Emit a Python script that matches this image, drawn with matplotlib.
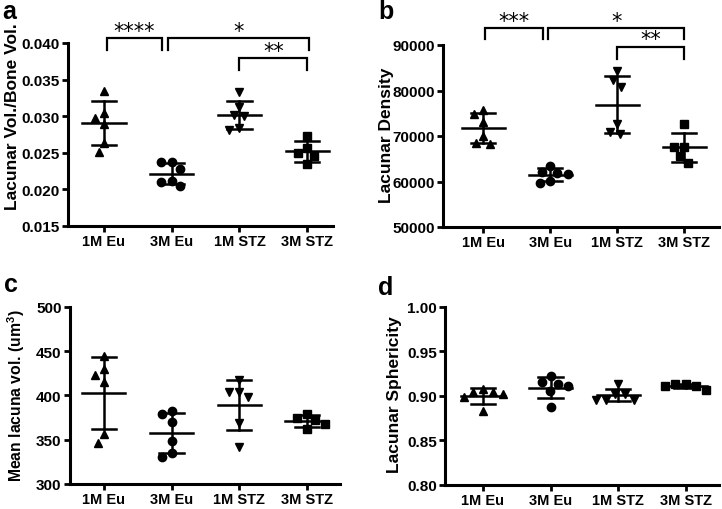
import matplotlib
matplotlib.use("Agg")
import matplotlib.pyplot as plt
import numpy as np

plt.rcParams["font.family"] = ["Liberation Sans", "DejaVu Sans"]
plt.rcParams["font.weight"] = "bold"
plt.rcParams["mathtext.fontset"] = "custom"
plt.rcParams["mathtext.rm"] = "Liberation Sans:bold"
plt.rcParams["mathtext.bf"] = "Liberation Sans:bold"

GROUPS = ["1M Eu", "3M Eu", "1M STZ", "3M STZ"]
MARKERS = ["^", "o", "v", "s"]

# a: lacunar volume / bone volume
VOLFRAC_1M_EU = [0.0335, 0.0305, 0.0298, 0.0289, 0.0264, 0.0251]
VOLFRAC_3M_EU = [0.0237, 0.0237, 0.0228, 0.0212, 0.0210, 0.0204]
VOLFRAC_1M_STZ = [0.0333, 0.0313, 0.0301, 0.0300, 0.0284, 0.0281]
VOLFRAC_3M_STZ = [0.0273, 0.0257, 0.0250, 0.0246, 0.0235]

# b: lacunar density
DENS_1M_EU = [75700, 74800, 73100, 70000, 68200, 68400]
DENS_3M_EU = [62100, 61700, 63500, 61800, 59600, 60100]
DENS_1M_STZ = [84300, 82200, 80800, 72600, 70400, 70900]
DENS_3M_STZ = [72600, 67600, 67600, 65500, 64100]

# c: mean lacuna volume
MLV_1M_EU = [444.7, 429.7, 423.3, 414.7, 356.4, 346.6]
MLV_3M_EU = [382.7, 378.9, 369.5, 348.9, 335.0, 330.8]
MLV_1M_STZ = [417.3, 404.5, 404.5, 398.5, 368.4, 342.0]
MLV_3M_STZ = [379.0, 374.4, 372.2, 367.7, 362.0]

# d: lacunar sphericity
SPH_1M_EU = [0.9040, 0.9025, 0.8985, 0.9045, 0.9080, 0.8830]
SPH_3M_EU = [0.9159, 0.9220, 0.9115, 0.9058, 0.9133, 0.8872]
SPH_1M_STZ = [0.9133, 0.9021, 0.9021, 0.8957, 0.8957, 0.8957]
SPH_3M_STZ = [0.9135, 0.9133, 0.9115, 0.9112, 0.9070]

SIG_A = ["****", "*", "**"]
SIG_B = ["***", "*", "**"]


def swarm(vals, ppx, ppy, d=10.5):
    """simple beeswarm offsets (in x data units)"""
    vals = np.asarray(vals, float)
    xs = np.zeros(len(vals))
    placed = []
    for i in np.argsort(vals)[::-1]:
        y = vals[i] * ppy
        cands = [0.0]
        for xp, yp in placed:
            dy = abs(y - yp)
            if dy < d:
                dx = np.sqrt(d * d - dy * dy)
                cands += [xp - dx, xp + dx]
        cands.sort(key=abs)
        for c in cands:
            if all((c - xp) ** 2 + (y - yp) ** 2 >= d * d - 1e-6 for xp, yp in placed):
                xs[i] = c
                break
        placed.append((xs[i], y))
    return xs / ppx


fig = plt.figure(figsize=(7.22, 5.1), dpi=100)
W, H = 722, 510


def rect(l, r, t, b):
    return [l / W, 1 - b / H, (r - l) / W, (b - t) / H]


panels = [
    dict(data=[VOLFRAC_1M_EU, VOLFRAC_3M_EU, VOLFRAC_1M_STZ, VOLFRAC_3M_STZ],
         rect=rect(68, 333, 44, 227), xlim=(-0.53, 3.38), ylim=(0.015, 0.040),
         yticks=np.arange(0.015, 0.0401, 0.005), fmt="{:.3f}",
         ylabel="Lacunar Vol./Bone Vol.", lab_xy=(13, 117), lab_fs=12.5,
         letter="a", let_xy=(9, 12),
         brackets=[(0.04, 0.85, 0.04064, 0.03908, SIG_A[0]),
                   (0.95, 3.03, 0.04064, 0.03908, SIG_A[1]),
                   (2.0, 3.0, 0.03791, 0.03635, SIG_A[2])]),
    dict(data=[DENS_1M_EU, DENS_3M_EU, DENS_1M_STZ, DENS_3M_STZ],
         rect=rect(443, 719, 46, 228), xlim=(-0.6, 3.52), ylim=(50000, 90000),
         yticks=np.arange(50000, 90001, 10000), fmt="{:.0f}",
         ylabel="Lacunar Density", lab_xy=(386, 135), lab_fs=12.5,
         letter="b", let_xy=(386, 12),
         brackets=[(0.03, 0.9, 93736, 91319, SIG_B[0]),
                   (0.97, 3.0, 93736, 91319, SIG_B[1]),
                   (2.0, 3.0, 89626, 86923, SIG_B[2])]),
    dict(data=[MLV_1M_EU, MLV_3M_EU, MLV_1M_STZ, MLV_3M_STZ],
         rect=rect(70, 340, 308, 485), xlim=(-0.5, 3.49), ylim=(300, 500),
         yticks=np.arange(300, 501, 50), fmt="{:.0f}",
         ylabel=r"Mean lacuna vol. (um$^{\mathbf{3}}$)", lab_xy=(16, 396), lab_fs=11.3,
         letter="c", let_xy=(11, 285), brackets=[]),
    dict(data=[SPH_1M_EU, SPH_3M_EU, SPH_1M_STZ, SPH_3M_STZ],
         rect=rect(445, 719, 308, 486), xlim=(-0.56, 3.49), ylim=(0.80, 1.00),
         yticks=np.arange(0.80, 1.001, 0.05), fmt="{:.2f}",
         ylabel="Lacunar Sphericity", lab_xy=(395, 395), lab_fs=12.5,
         letter="d", let_xy=(386, 288), brackets=[]),
]

for p in panels:
    ax = fig.add_axes(p["rect"])
    ax.set_xlim(*p["xlim"])
    ax.set_ylim(*p["ylim"])
    ppx = ax.bbox.width / (p["xlim"][1] - p["xlim"][0])
    ppy = ax.bbox.height / (p["ylim"][1] - p["ylim"][0])

    for i, vals in enumerate(p["data"]):
        vals = np.asarray(vals, float)
        off = swarm(vals, ppx, ppy)
        ax.plot(i + off, vals, ls="none", marker=MARKERS[i], ms=6,
                color="black", clip_on=False, zorder=3)
        m, sd = vals.mean(), vals.std(ddof=1)
        ax.plot([i - 0.32, i + 0.32], [m, m], color="black", lw=1.8, zorder=4)
        ax.plot([i, i], [m - sd, m + sd], color="black", lw=1.8, zorder=4)
        for y in (m - sd, m + sd):
            ax.plot([i - 0.18, i + 0.18], [y, y], color="black", lw=1.8, zorder=4)

    for x1, x2, yt, yl, s in p["brackets"]:
        ax.plot([x1, x1, x2, x2], [yl, yt, yt, yl], color="black", lw=1.6,
                clip_on=False, solid_joinstyle="miter")
        ax.annotate(s, ((x1 + x2) / 2, yt), xytext=(0, -2), textcoords="offset points",
                    ha="center", va="bottom", fontsize=15, fontweight="normal",
                    family="DejaVu Sans", annotation_clip=False)

    ax.set_xticks(range(len(GROUPS)))
    ax.set_xticklabels(GROUPS, fontsize=10.5, fontweight="bold")
    ax.set_yticks(p["yticks"])
    ax.set_yticklabels([p["fmt"].format(v) for v in p["yticks"]], fontsize=11,
                       fontweight="bold")
    for s in ("top", "right"):
        ax.spines[s].set_visible(False)
    for s in ("left", "bottom"):
        ax.spines[s].set_linewidth(2.2)
    ax.tick_params(width=2, length=4, pad=2, color="black")

    fig.text(p["lab_xy"][0] / W, 1 - p["lab_xy"][1] / H, p["ylabel"], rotation=90,
             ha="center", va="center", fontsize=p["lab_fs"], fontweight="bold")
    fig.text(p["let_xy"][0] / W, 1 - p["let_xy"][1] / H, p["letter"],
             ha="center", va="center", fontsize=18, fontweight="bold")

fig.savefig("out.png", dpi=100)
